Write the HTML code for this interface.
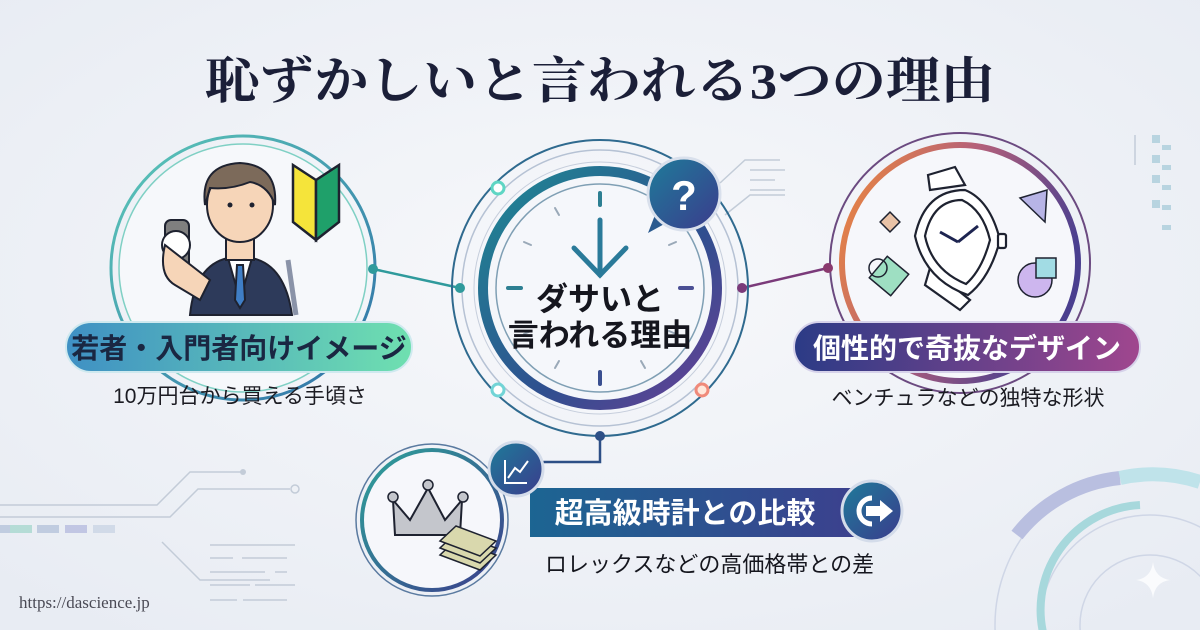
<!DOCTYPE html>
<html><head><meta charset="utf-8"><style>
html,body{margin:0;padding:0;width:1200px;height:630px;overflow:hidden;background:#eef1f6}
svg{display:block;overflow:hidden}
.s{font-family:"Liberation Sans","Noto Sans CJK JP",sans-serif}
.serif{font-family:"Liberation Serif","Noto Serif CJK SC",serif}
</style></head><body>
<svg width="1200" height="630" viewBox="0 0 1200 630" xmlns="http://www.w3.org/2000/svg">
<defs>
<radialGradient id="bg" cx="0.5" cy="0.45" r="0.7"><stop offset="0" stop-color="#f7f8fb"/><stop offset="1" stop-color="#e8ecf3"/></radialGradient>
<linearGradient id="gTeal" x1="0" y1="0" x2="1" y2="1"><stop offset="0" stop-color="#5cc9b8"/><stop offset="1" stop-color="#2f6fa8"/></linearGradient>
<linearGradient id="gClock" x1="0" y1="0" x2="1" y2="1"><stop offset="0" stop-color="#1e8a94"/><stop offset="0.6" stop-color="#2f4f8f"/><stop offset="1" stop-color="#6a3f96"/></linearGradient>
<linearGradient id="gRight" x1="0" y1="0" x2="1" y2="0.4"><stop offset="0" stop-color="#f08a3a"/><stop offset="0.5" stop-color="#b4607a"/><stop offset="1" stop-color="#4a3f8f"/></linearGradient>
<linearGradient id="pillL" x1="0" y1="0" x2="1" y2="0"><stop offset="0" stop-color="#3f90c4"/><stop offset="1" stop-color="#6fe0b0"/></linearGradient>
<linearGradient id="pillR" x1="0" y1="0" x2="1" y2="0"><stop offset="0" stop-color="#2b3b86"/><stop offset="1" stop-color="#a0468e"/></linearGradient>
<linearGradient id="bar" x1="0" y1="0" x2="1" y2="0"><stop offset="0" stop-color="#1c6592"/><stop offset="1" stop-color="#3d3f8e"/></linearGradient>
<linearGradient id="ico" x1="0" y1="0" x2="1" y2="1"><stop offset="0" stop-color="#1e7c9a"/><stop offset="1" stop-color="#3b3b8c"/></linearGradient>
<linearGradient id="gBot" x1="0" y1="0" x2="1" y2="1"><stop offset="0" stop-color="#2ea39a"/><stop offset="1" stop-color="#3b3c8c"/></linearGradient>
<clipPath id="frame"><rect width="1200" height="630"/></clipPath>
</defs>
<g clip-path="url(#frame)">
<rect width="1200" height="630" fill="url(#bg)"/>

<g stroke="#c3ccd8" stroke-width="1.5" fill="none">
<path d="M0 505 H157 L190 472 H243"/><path d="M0 517 H170 L198 489 H290"/><circle cx="295" cy="489" r="4" fill="#eef1f6"/>
<path d="M162 542 L200 580 H270"/>
<path d="M210 545H295M210 558H233M242 558H287M210 572H265M275 572H287M210 585H250M255 585H295M210 600H237M243 600H287"/>
<path d="M720 183 L745 160 H780M725 215 L750 195 H785M750 170H785M750 180H775M750 190H785"/>
<path d="M1135 135 V165"/>
</g>
<circle cx="243" cy="472" r="3" fill="#c3ccd8"/>
<g fill="#b6c4dc" opacity="0.8"><rect x="0" y="525" width="20" height="8"/><rect x="10" y="525" width="22" height="8" fill="#a8d9cf"/><rect x="37" y="525" width="22" height="8"/><rect x="65" y="525" width="22" height="8" fill="#b7bde0"/><rect x="93" y="525" width="22" height="8" opacity=".6"/></g>
<g fill="#b8d4e0"><rect x="1152" y="135" width="8" height="8"/><rect x="1152" y="155" width="8" height="8"/><rect x="1152" y="175" width="8" height="8"/><rect x="1152" y="200" width="8" height="8"/><rect x="1162" y="145" width="9" height="5"/><rect x="1162" y="165" width="9" height="5"/><rect x="1162" y="185" width="9" height="5"/><rect x="1162" y="205" width="9" height="5"/><rect x="1162" y="225" width="9" height="5"/></g>
<g fill="none">
<circle cx="1150" cy="625" r="155" stroke="#cfd6e6" stroke-width="1.5"/>
<path d="M1017 535 A150 150 0 0 1 1120 478" stroke="#b9bfe0" stroke-width="14"/>
<path d="M1120 478 A150 150 0 0 1 1200 482" stroke="#bfe3ea" stroke-width="14"/>
<circle cx="1150" cy="625" r="110" stroke="#cfd6e6" stroke-width="1.5"/>
<path d="M1045 640 A105 105 0 0 1 1140 505" stroke="#a7d8dc" stroke-width="8"/>
<circle cx="1150" cy="625" r="70" stroke="#cfd6e6" stroke-width="1.5"/>
</g>
<path d="M1153 562 Q1155 578 1170 580 Q1155 582 1153 598 Q1151 582 1136 580 Q1151 578 1153 562Z" fill="#fafbfd"/>

<text class="serif" x="600" y="98" text-anchor="middle" font-weight="bold" font-size="50" fill="#1b1f38" textLength="790" lengthAdjust="spacingAndGlyphs">恥ずかしいと言われる3つの理由</text>

<g stroke-width="2.5">
<line x1="373" y1="269" x2="460" y2="288" stroke="#2f9a9c"/>
<line x1="742" y1="288" x2="828" y2="268" stroke="#7a3a7a"/>
<path d="M600 436 V462 H530" fill="none" stroke="#2d4f86"/>
</g>

<circle cx="243" cy="268" r="132" fill="none" stroke="url(#gTeal)" stroke-width="3"/>
<circle cx="243" cy="268" r="124" fill="#f6f8fb" stroke="#7fd0c4" stroke-width="1.5"/>
<circle cx="373" cy="269" r="5" fill="#2f9a9c"/>
<g stroke="#1e2230" stroke-width="2">
<path d="M190 315 Q195 265 228 258 L252 258 Q285 265 292 315Z" fill="#2d3a5a"/>
<path d="M228 258 L240 300 L252 258Z" fill="#fff"/>
<path d="M237 265 L243 265 L245 300 L240 308 L235 300Z" fill="#3f7ec6"/>
<rect x="226" y="228" width="28" height="32" fill="#f6d5b8"/>
<ellipse cx="240" cy="205" rx="33" ry="37" fill="#f6d5b8"/>
<path d="M205 205 Q200 165 240 163 Q278 165 275 205 Q268 185 250 182 Q230 190 210 188Z" fill="#7c6a5a"/>
<path d="M288 260 L296 315" stroke="#8a93a8" stroke-width="5"/>
<rect x="165" y="220" width="24" height="58" rx="6" fill="#7f7f7f"/>
<circle cx="176" cy="245" r="14" fill="#fff"/>
<path d="M165 245 Q158 275 175 285 L200 300 L210 280Z" fill="#f6d5b8"/>
</g>
<circle cx="230" cy="205" r="2.5" fill="#1e2230"/><circle cx="252" cy="205" r="2.5" fill="#1e2230"/>
<g stroke="#1e2230" stroke-width="2.5">
<path d="M293 165 L316 180 L316 240 L293 222Z" fill="#f5e43a"/>
<path d="M339 165 L316 180 L316 240 L339 222Z" fill="#1fa06a"/>
</g>
<rect x="66" y="322" width="346" height="50" rx="25" fill="url(#pillL)" stroke="#cfe9ef" stroke-width="2"/>
<text class="s" x="239" y="358" text-anchor="middle" font-size="28" font-weight="bold" fill="#1a2742">若者・入門者向けイメージ</text>
<text class="s" x="240" y="403" text-anchor="middle" font-size="21" fill="#1b1b22">10万円台から買える手頃さ</text>

<circle cx="960" cy="263" r="130" fill="none" stroke="#6b4a80" stroke-width="2"/>
<circle cx="960" cy="263" r="118" fill="#f6f7fb" stroke="url(#gRight)" stroke-width="6"/>
<circle cx="828" cy="268" r="5" fill="#8a3a6e"/>
<g stroke="#1e2230" stroke-width="2.2" fill="#fff">
<path d="M928 175 L955 167 L965 185 L930 190Z"/>
<path d="M930 268 L970 300 L960 310 L925 285Z"/>
<path d="M915 236 Q925 190 965 190 Q990 200 1000 240 Q990 278 968 295 Q925 280 915 236Z"/>
<path d="M925 236 Q933 200 962 200 Q983 210 990 240 Q982 270 966 284 Q932 270 925 236Z"/>
<rect x="998" y="234" width="8" height="14" rx="2"/>
</g>
<path d="M958 242 L940 232 M958 242 L978 226" stroke="#1d2450" stroke-width="3"/>
<rect x="883" y="215" width="14" height="14" transform="rotate(45 890 222)" fill="#e9c2a6" stroke="#1e2230" stroke-width="1.5"/>
<path d="M1020 198 L1047 190 L1045 222Z" fill="#b7b4e6" stroke="#1e2230" stroke-width="1.5"/>
<rect x="875" y="262" width="28" height="28" transform="rotate(40 889 276)" fill="#9edfc2" stroke="#1e2230" stroke-width="1.5"/>
<circle cx="878" cy="268" r="9" fill="none" stroke="#1e2230" stroke-width="1.5"/>
<circle cx="1035" cy="280" r="17" fill="#cdb6ee" stroke="#1e2230" stroke-width="1.5"/>
<rect x="1036" y="258" width="20" height="20" fill="#a2dce4" stroke="#1e2230" stroke-width="1.5"/>
<rect x="794" y="322" width="346" height="50" rx="25" fill="url(#pillR)" stroke="#d6d2ea" stroke-width="2"/>
<text class="s" x="967" y="358" text-anchor="middle" font-size="28" font-weight="bold" fill="#fff">個性的で奇抜なデザイン</text>
<text class="s" x="968" y="405" text-anchor="middle" font-size="21" fill="#1b1b22">ベンチュラなどの独特な形状</text>

<circle cx="600" cy="288" r="148" fill="none" stroke="#2f6a8f" stroke-width="2"/>
<circle cx="600" cy="288" r="138" fill="none" stroke="#b6c2d4" stroke-width="1.5"/>
<circle cx="600" cy="288" r="126" fill="#f4f6fa" stroke="#c6cedc" stroke-width="1"/>
<circle cx="600" cy="288" r="117" fill="none" stroke="url(#gClock)" stroke-width="10"/>
<circle cx="600" cy="288" r="104" fill="#f5f7fb" stroke="#7f9fb4" stroke-width="1.5"/>
<g stroke="#2d7f92" stroke-width="4" stroke-linecap="round">
<line x1="600" y1="193" x2="600" y2="205"/><line x1="600" y1="372" x2="600" y2="384" stroke="#3a4f90"/>
<line x1="508" y1="288" x2="521" y2="288"/><line x1="680" y1="288" x2="692" y2="288" stroke="#4a4f94"/>
</g>
<g stroke="#9aa9b8" stroke-width="2" stroke-linecap="round">
<line x1="555" y1="208" x2="559" y2="215"/><line x1="524" y1="242" x2="531" y2="245"/>
<line x1="676" y1="242" x2="669" y2="245"/><line x1="524" y1="334" x2="531" y2="331"/>
<line x1="555" y1="368" x2="559" y2="361"/><line x1="645" y1="368" x2="641" y2="361"/><line x1="676" y1="334" x2="669" y2="331"/>
</g>
<g stroke="#2a7a99" stroke-width="5" stroke-linecap="round" fill="none">
<line x1="600" y1="220" x2="600" y2="275"/><path d="M574 248 L600 275 L626 248"/>
</g>
<text class="s" x="600" y="310" text-anchor="middle" font-size="32" font-weight="bold" fill="#15161e">ダサいと</text>
<text class="s" x="600" y="346" text-anchor="middle" font-size="31" font-weight="bold" fill="#15161e">言われる理由</text>
<path d="M655 215 L648 233 L668 222Z" fill="#2a5a8f"/>
<circle cx="684" cy="194" r="36" fill="url(#ico)" stroke="#d9e0ec" stroke-width="3"/>
<text class="s" x="684" y="210" text-anchor="middle" font-size="42" font-weight="bold" fill="#fff">?</text>
<circle cx="498" cy="188" r="6" fill="#fff" stroke="#5fd6c4" stroke-width="3"/>
<circle cx="498" cy="390" r="6" fill="#fff" stroke="#72d4d6" stroke-width="3"/>
<circle cx="702" cy="390" r="6" fill="#ffe8dc" stroke="#f08a7a" stroke-width="3"/>
<circle cx="460" cy="288" r="5" fill="#2f9a9c"/>
<circle cx="742" cy="288" r="5" fill="#7a3a7a"/>
<circle cx="600" cy="436" r="5" fill="#2d4f86"/>

<circle cx="432" cy="520" r="76" fill="none" stroke="#5a7aa0" stroke-width="1.5"/>
<circle cx="432" cy="520" r="70" fill="#f6f7fb" stroke="url(#gBot)" stroke-width="4"/>
<path d="M393 500 L410 520 L428 488 L445 520 L462 500 L460 535 L395 535Z" fill="#c4c6cc" stroke="#1e2230" stroke-width="2"/>
<circle cx="393" cy="497" r="5" fill="#c4c6cc" stroke="#1e2230" stroke-width="1.5"/><circle cx="428" cy="485" r="5" fill="#c4c6cc" stroke="#1e2230" stroke-width="1.5"/><circle cx="463" cy="497" r="5" fill="#c4c6cc" stroke="#1e2230" stroke-width="1.5"/>
<g stroke="#1e2230" stroke-width="1.5" fill="#d9d8ad">
<path d="M440 555 L480 570 L496 555 L456 540Z"/><path d="M440 548 L480 563 L496 548 L456 533Z"/><path d="M440 541 L480 556 L496 541 L456 526Z"/>
</g>
<rect x="530" y="488" width="340" height="49" fill="url(#bar)"/>
<text class="s" x="685" y="523" text-anchor="middle" font-size="29" font-weight="bold" fill="#fff">超高級時計との比較</text>
<circle cx="516" cy="469" r="27" fill="url(#ico)" stroke="#d4dcea" stroke-width="3"/>
<path d="M505 460 V483 H527 M508 478 L515 468 L520 472 L528 461" stroke="#fff" stroke-width="2" fill="none"/>
<circle cx="872" cy="511" r="30" fill="url(#ico)" stroke="#d4dcea" stroke-width="3"/>
<path d="M872 498 A13 13 0 1 0 872 524" stroke="#fff" stroke-width="5" fill="none"/>
<path d="M866 506 H880 V500 L893 511 L880 522 V516 H866Z" fill="#fff"/>
<text class="s" x="545" y="572" font-size="22" fill="#15161e">ロレックスなどの高価格帯との差</text>

<text class="serif" x="19" y="608" font-size="17" fill="#4a4a55">https://dascience.jp</text>
</g>
</svg>
</body></html>
